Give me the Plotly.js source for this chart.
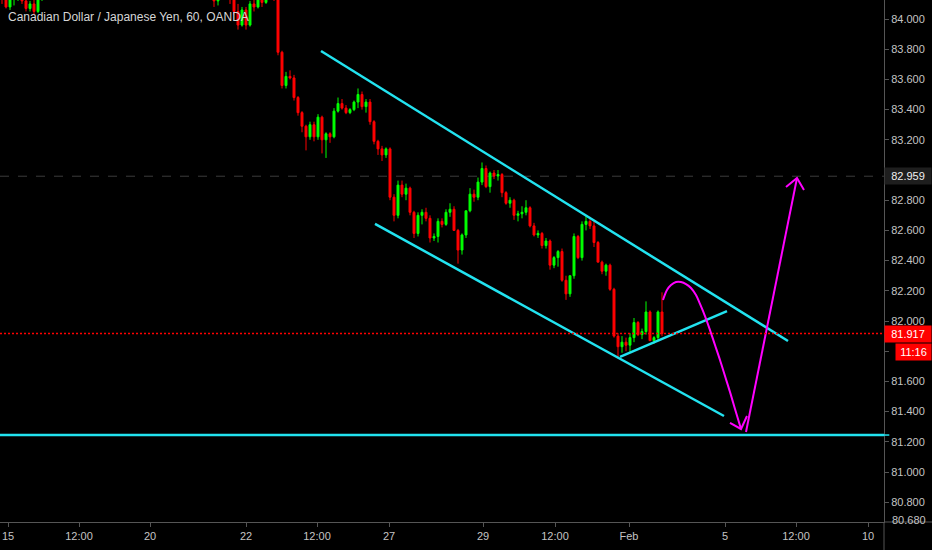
<!DOCTYPE html>
<html>
<head>
<meta charset="utf-8">
<script src="https://cdn.plot.ly/plotly-3.0.1.min.js"></script>
<style>html,body{margin:0;padding:0;background:#000;}#chart{width:932px;height:550px;}</style>
</head>
<body>
<div id="chart"></div>
<script>
// ---- Candle data (hourly bars, CAD/JPY) ----
const openP = [84.20,84.14,84.08,84.13,84.16,84.20,84.12,84.07,84.10,84.05,84.13,
84.22,84.28,84.26,84.33,84.38,84.35,84.31,84.34,84.43,84.41,84.37,84.40,84.47,84.44,84.40,84.36,84.38,84.44,84.42,84.37,84.32,84.35,84.40,84.38,84.34,84.30,84.33,84.38,84.36,84.32,84.27,84.29,84.34,84.31,84.27,84.28,84.32,84.30,84.26,84.28,84.31,84.25,
84.20,84.12,84.17,84.22,84.20,84.14,84.05,83.96,84.06,83.96,84.10,84.08,84.14,84.11,84.18,84.26,
84.16,83.78,83.56,83.62,83.61,83.48,83.38,83.29,83.22,83.30,83.22,83.35,83.20,83.24,83.22,83.39,83.44,83.41,83.38,83.40,83.45,83.50,83.42,83.45,83.32,83.19,83.14,83.10,
83.14,82.82,82.70,82.90,82.84,82.88,82.72,82.58,82.70,82.72,82.68,82.55,82.56,82.66,82.64,82.72,82.74,82.60,82.47,82.57,82.73,82.84,82.82,82.92,83.01,82.89,82.98,82.96,
82.97,82.85,82.78,82.80,82.70,82.71,82.72,82.75,82.63,82.57,82.58,82.50,82.53,82.37,82.42,82.46,82.27,82.18,82.30,82.56,82.42,82.64,82.66,82.63,82.52,82.39,82.33,82.37,
82.21,81.90,81.83,81.86,81.84,81.89,81.99,81.91,81.93,82.06,81.87,81.89,82.06];
const highP = [84.25,84.20,84.15,84.20,84.22,84.22,84.16,84.12,84.13,84.14,84.25,
84.30,84.33,84.35,84.40,84.42,84.39,84.36,84.45,84.48,84.44,84.41,84.50,84.52,84.47,84.43,84.40,84.46,84.49,84.45,84.39,84.36,84.42,84.44,84.41,84.37,84.35,84.40,84.43,84.39,84.34,84.31,84.36,84.38,84.33,84.30,84.34,84.36,84.32,84.30,84.33,84.34,84.28,
84.22,84.20,84.25,84.28,84.24,84.18,84.10,84.08,84.08,84.12,84.13,84.16,84.18,84.20,84.30,84.30,
84.17,83.79,83.65,83.66,83.63,83.49,83.39,83.30,83.32,83.32,83.37,83.36,83.25,83.25,83.41,83.48,83.47,83.43,83.41,83.46,83.54,83.52,83.47,83.47,83.33,83.20,83.16,83.15,
83.15,82.84,82.93,82.93,82.91,82.89,82.73,82.72,82.74,82.75,82.70,82.58,82.68,82.68,82.74,82.78,82.76,82.61,82.58,82.73,82.88,82.87,82.95,83.05,83.03,82.99,83.00,83.00,
82.98,82.86,82.82,82.81,82.73,82.76,82.80,82.76,82.65,82.60,82.59,82.55,82.54,82.43,82.47,82.48,82.30,82.30,82.58,82.57,82.66,82.70,82.69,82.66,82.53,82.40,82.38,82.38,
82.22,81.92,81.90,81.89,81.92,82.02,82.00,81.95,82.13,82.07,81.90,82.07,82.19];
const lowP = [84.10,84.07,84.06,84.09,84.12,84.10,84.05,84.05,84.03,84.04,84.12,
84.18,84.24,84.25,84.30,84.32,84.30,84.27,84.33,84.39,84.36,84.33,84.38,84.42,84.38,84.34,84.31,84.36,84.40,84.35,84.30,84.28,84.33,84.36,84.32,84.28,84.27,84.31,84.35,84.30,84.25,84.23,84.27,84.30,84.25,84.22,84.26,84.28,84.24,84.21,84.25,84.24,84.19,
84.08,84.09,84.14,84.16,84.10,84.03,83.93,83.95,83.93,83.95,84.05,84.07,84.08,84.10,84.16,84.12,
83.76,83.54,83.54,83.60,83.46,83.36,83.25,83.13,83.20,83.19,83.20,83.11,83.08,83.18,83.21,83.38,83.40,83.37,83.37,83.39,83.41,83.40,83.38,83.30,83.17,83.10,83.06,83.08,
82.80,82.66,82.68,82.82,82.80,82.70,82.55,82.56,82.64,82.66,82.52,82.53,82.52,82.62,82.63,82.69,82.60,82.38,82.44,82.55,82.72,82.79,82.80,82.90,82.88,82.85,82.94,82.93,
82.82,82.77,82.75,82.67,82.66,82.68,82.70,82.62,82.56,82.55,82.48,82.48,82.34,82.35,82.36,82.26,82.14,82.16,82.28,82.41,82.40,82.60,82.61,82.49,82.39,82.31,82.30,82.20,
81.89,81.76,81.79,81.80,81.79,81.86,81.90,81.88,81.91,81.87,81.85,81.87,81.90];
const closeP = [84.14,84.08,84.13,84.16,84.20,84.12,84.07,84.10,84.05,84.13,84.22,
84.28,84.26,84.33,84.38,84.35,84.31,84.34,84.43,84.41,84.37,84.40,84.47,84.44,84.40,84.36,84.38,84.44,84.42,84.37,84.32,84.35,84.40,84.38,84.34,84.30,84.33,84.38,84.36,84.32,84.27,84.29,84.34,84.31,84.27,84.28,84.32,84.30,84.26,84.28,84.31,84.25,84.20,
84.12,84.17,84.22,84.20,84.14,84.05,83.96,84.06,83.96,84.10,84.08,84.14,84.11,84.18,84.26,84.16,
83.78,83.56,83.62,83.61,83.48,83.38,83.29,83.22,83.30,83.22,83.35,83.20,83.24,83.22,83.39,83.44,83.41,83.38,83.40,83.45,83.50,83.42,83.45,83.32,83.19,83.14,83.10,83.14,
82.82,82.70,82.90,82.84,82.88,82.72,82.58,82.70,82.72,82.68,82.55,82.56,82.66,82.64,82.72,82.74,82.60,82.47,82.57,82.73,82.84,82.82,82.92,83.01,82.89,82.98,82.96,82.97,
82.85,82.78,82.80,82.70,82.71,82.72,82.75,82.63,82.57,82.58,82.50,82.53,82.37,82.42,82.46,82.27,82.18,82.30,82.56,82.42,82.64,82.66,82.63,82.52,82.39,82.33,82.37,82.21,
81.90,81.83,81.86,81.84,81.89,81.99,81.91,81.93,82.06,81.87,81.89,82.06,81.917];

// ---- Axis labels ----
const timeLabels = ['15','12:00','20','22','12:00','27','29','12:00','Feb','5','12:00','10'];
const timeIndex  = [1.5, 19.25, 37, 61, 78.75, 96.75, 120.25, 138.25, 156.75, 180.75, 198.5, 216.5];
// 83.000 and 81.800 sit under the price boxes in the reference, so only their tick marks are kept
const priceTicks = [80.8, 81.0, 81.2, 81.4, 81.6, 81.8, 82.0, 82.2, 82.4, 82.6, 82.8, 83.0, 83.2, 83.4, 83.6, 83.8, 84.0];
const priceTickText = ['80.800','81.000','81.200','81.400','81.600','','82.000','82.200','82.400','82.600','82.800','','83.200','83.400','83.600','83.800','84.000'];
const lastPrice = 81.917, markPrice = 82.959, bottomPrice = 80.680, countdown = '11:16';

// ---- Drawings (bar index / price) ----
const upperChX = [79.75, 196.5],  upperChY = [83.788, 81.868];
const lowerChX = [93.25, 180.5],  lowerChY = [82.643, 81.371];
const riseX = [154.5, 181.25],    riseY = [81.762, 82.066];
const supportLevel = 81.245;
const arcX = [165.25,166.25,167.25,168.5,169.75,171,172.25,173.5,174.5,175.75,177,178.25,179.5,180.75,182,183.25,184.75];
const arcY = [82.139,82.205,82.238,82.258,82.258,82.245,82.219,82.172,82.113,82.033,81.940,81.841,81.742,81.636,81.530,81.417,81.285];
const head1X = [182, 184.75, 186.25], head1Y = [81.325, 81.285, 81.371];
const upX = [186, 198.75], upY = [81.265, 82.947];
const head2X = [196, 198.75, 200.5], head2Y = [82.887, 82.947, 82.868];

const idx = openP.map((_, i) => i);
const CYAN = '#22e3f0', MAG = '#ff00ff';
const axisCol = '#555555', txtCol = '#c4c4c4';
const FONT = 'Liberation Sans, Arial, sans-serif';

const traces = [
  {type:'candlestick', x: idx, open: openP, high: highP, low: lowP, close: closeP,
   increasing:{line:{color:'#00ff00', width:1}, fillcolor:'#00ff00'},
   decreasing:{line:{color:'#ff0000', width:1}, fillcolor:'#ff0000'},
   whiskerwidth:0, hoverinfo:'skip', showlegend:false},
  {type:'scatter', mode:'lines', x: upperChX, y: upperChY, line:{color:CYAN, width:2.5}, hoverinfo:'skip', showlegend:false},
  {type:'scatter', mode:'lines', x: lowerChX, y: lowerChY, line:{color:CYAN, width:2.5}, hoverinfo:'skip', showlegend:false},
  {type:'scatter', mode:'lines', x: riseX, y: riseY, line:{color:CYAN, width:2.5}, hoverinfo:'skip', showlegend:false},
  {type:'scatter', mode:'lines', x: arcX, y: arcY, line:{color:MAG, width:2, shape:'spline'}, hoverinfo:'skip', showlegend:false},
  {type:'scatter', mode:'lines', x: head1X, y: head1Y, line:{color:MAG, width:2}, hoverinfo:'skip', showlegend:false},
  {type:'scatter', mode:'lines', x: upX, y: upY, line:{color:MAG, width:2}, hoverinfo:'skip', showlegend:false},
  {type:'scatter', mode:'lines', x: head2X, y: head2Y, line:{color:MAG, width:2}, hoverinfo:'skip', showlegend:false}
];

const layout = {
  width: 932, height: 550,
  paper_bgcolor:'#000000', plot_bgcolor:'#000000',
  margin:{l:0, r:48, t:0, b:28},
  showlegend:false, hovermode:false,
  title:{text:'Canadian Dollar / Japanese Yen, 60, OANDA', x: 8/932, xanchor:'left', y: 1-17/550, yanchor:'middle',
         font:{family:FONT, size:12, color:'#d6d6d6'}},
  xaxis:{range:[-0.5, 220.5], tickmode:'array', tickvals: timeIndex, ticktext: timeLabels,
         showgrid:false, zeroline:false, showline:true, linecolor:axisCol, linewidth:1,
         ticks:'outside', ticklen:4, tickcolor:axisCol, ticklabeloverflow:'allow',
         tickfont:{family:FONT, size:11, color:txtCol},
         rangeslider:{visible:false}, fixedrange:true},
  yaxis:{side:'right', range:[80.669, 84.126], tickmode:'array', tickvals: priceTicks, ticktext: priceTickText,
         showgrid:false, zeroline:false, showline:true, linecolor:axisCol, linewidth:1,
         ticks:'outside', ticklen:4, tickcolor:axisCol,
         tickfont:{family:FONT, size:11, color:txtCol}, fixedrange:true},
  shapes:[
    {type:'line', xref:'paper', x0:0, x1:1, yref:'y', y0:markPrice, y1:markPrice, line:{color:'#3c3c3c', width:1, dash:'dash'}, layer:'below'},
    {type:'line', xref:'paper', x0:0, x1:1.012, yref:'y', y0:lastPrice, y1:lastPrice, line:{color:'#ff0000', width:1.6, dash:'2px,2px'}},
    {type:'line', xref:'paper', x0:0, x1:1, yref:'y', y0:supportLevel, y1:supportLevel, line:{color:CYAN, width:2.5}},
    {type:'line', xref:'paper', x0:1, x1:1.006, yref:'y', y0:supportLevel, y1:supportLevel, line:{color:CYAN, width:1.5}},
    {type:'line', xref:'paper', x0:1, x1:1, yref:'paper', y0:-28/522, y1:0, line:{color:axisCol, width:1}},
    {type:'line', xref:'paper', x0:1, x1:1+48/884, yref:'paper', y0:0, y1:0, line:{color:axisCol, width:1}}
  ],
  annotations:[
    {xref:'paper', x:1, xanchor:'left', yref:'y', y:markPrice, yanchor:'middle',
     text:markPrice.toFixed(3), showarrow:false, bgcolor:'#1e1e1e', width:44, height:14, align:'center',
     font:{family:FONT, size:11, color:'#f0f0f0'}},
    {xref:'paper', x:1, xanchor:'left', yref:'y', y:lastPrice, yanchor:'middle',
     text:lastPrice.toFixed(3), showarrow:false, bgcolor:'#ff0000', width:44, height:14, align:'center',
     font:{family:FONT, size:11, color:'#ffffff'}},
    {xref:'paper', x:1, xanchor:'left', xshift:11, yref:'y', y:lastPrice, yanchor:'middle', yshift:-18,
     text:countdown, showarrow:false, bgcolor:'#ff0000', width:33, height:14, align:'center',
     font:{family:FONT, size:11, color:'#ffffff'}},
    {xref:'paper', x:1, xanchor:'left', xshift:6, yref:'y', y:bottomPrice, yanchor:'middle',
     text:bottomPrice.toFixed(3), showarrow:false,
     font:{family:FONT, size:11, color:txtCol}}
  ]
};

Plotly.newPlot('chart', traces, layout, {staticPlot:true, displayModeBar:false});
</script>
</body>
</html>
